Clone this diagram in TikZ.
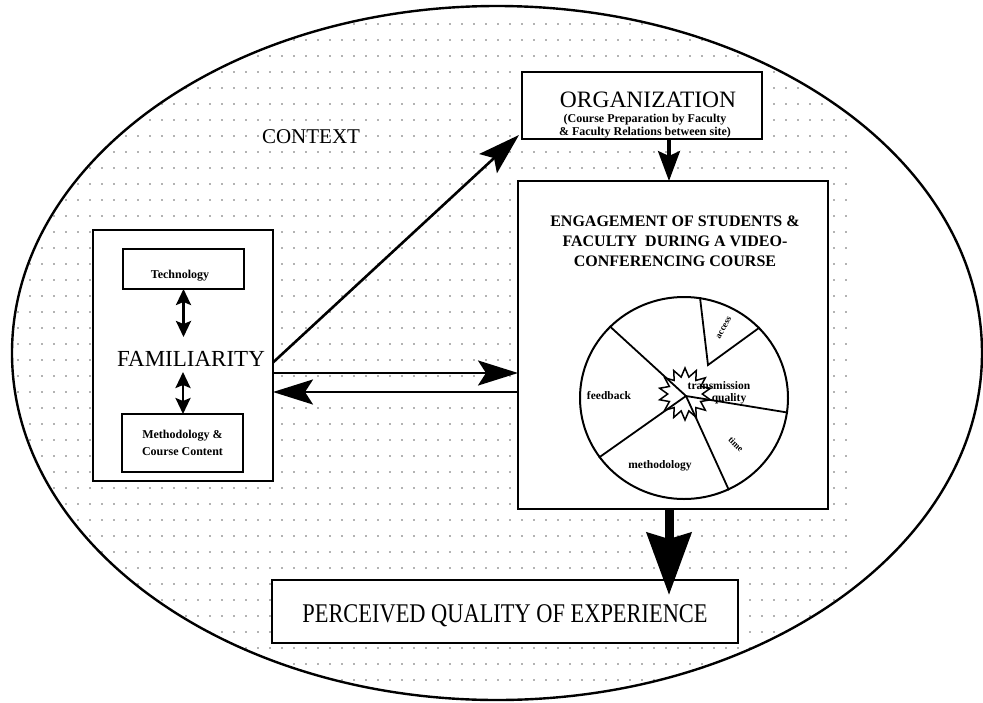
\documentclass[tikz,border=0pt]{standalone}
\usepackage{fontspec}
\usepackage{graphicx}
\setmainfont{Liberation Serif}
\usetikzlibrary{arrows.meta,shapes.geometric}
\newcommand{\hsq}[2]{\scalebox{#1}[1]{#2}}
\begin{document}
\begin{tikzpicture}[x=1pt,y=-1pt,
  box/.style={draw,line width=2.2pt,fill=white,inner sep=0pt,outer sep=0pt,align=center},
  lbl/.style={inner sep=0pt,outer sep=0pt,align=center},
  pielbl/.style={inner sep=0pt,font=\fontsize{11.5}{12}\selectfont\bfseries},
  smlbl/.style={inner sep=0pt,font=\fontsize{9}{10}\selectfont\bfseries},
  spoke/.style={line width=1.8pt},
  dblarr/.style={line width=2.6pt,{Stealth[length=16pt,width=15pt,inset=3pt]}-{Stealth[length=16pt,width=15pt,inset=3pt]}},
  harr/.style={line width=2.6pt,-{Stealth[length=40pt,width=25pt,inset=8pt]}},
  darr/.style={line width=2.6pt,-{Stealth[length=42pt,width=26pt,inset=8pt]}},
  varr/.style={line width=3.2pt,-{Stealth[length=30pt,width=22pt,inset=5pt]}},
  bigarr/.style={line width=9pt,-{Stealth[length=62pt,width=44pt,inset=6pt]}}]
\useasboundingbox (0,0) rectangle (983,702);
% dotted background
\begin{scope}
  \clip (497,353) ellipse [x radius=485, y radius=347];
  \foreach \yy in {24,40,...,690}{
    \foreach \xx in {18,30,...,846}{
      \fill[black!60] (\xx,\yy) circle (0.9pt);
    }
  }
\end{scope}
\node[draw,ellipse,line width=2.4pt,minimum width=970pt,minimum height=694pt,inner sep=0pt] (ctx) at (497,353) {};
\node[lbl,font=\fontsize{21}{24}\selectfont] (ctxlbl) at (311,137) {CONTEXT};

% boxes
\node[box,minimum width=180pt,minimum height=251pt] (fam) at (183,355.5) {};
\node[box,minimum width=121pt,minimum height=40pt] (tech) at (183.5,269) {};
\node[lbl,font=\fontsize{12}{13}\selectfont\bfseries] (techtxt) at (180,276) {Technology};
\node[box,minimum width=121pt,minimum height=58pt,font=\fontsize{12}{17}\selectfont\bfseries] (meth) at (182.5,443) {Methodology \&\\Course Content};
\node[lbl,font=\fontsize{23}{26}\selectfont] (famtxt) at (191,359) {FAMILIARITY};
\coordinate (fa1) at (183,337);
\coordinate (fa2) at (183,372);

\node[box,minimum width=240pt,minimum height=67pt] (org) at (642,105.5) {};
\node[lbl,font=\fontsize{23.5}{25}\selectfont] (orgtxt) at (648,100) {ORGANIZATION};
\node[lbl,font=\fontsize{12}{13}\selectfont\bfseries] (orgsub) at (645,126) {(Course Preparation by Faculty\\\& Faculty Relations between site)};

\node[box,minimum width=310pt,minimum height=328pt] (eng) at (673,345) {};
\node[lbl,font=\fontsize{16}{20}\selectfont\bfseries] (engtxt) at (675,241) {ENGAGEMENT OF STUDENTS \&\\FACULTY\ \ DURING A VIDEO-\\CONFERENCING COURSE};

\node[box,minimum width=466pt,minimum height=63pt] (perc) at (505,611.5) {};
\node[lbl,font=\fontsize{27}{30}\selectfont] (perctxt) at (505,616) {\hsq{0.83}{PERCEIVED QUALITY OF EXPERIENCE}};

% pie
\node[draw,ellipse,line width=2pt,fill=white,minimum width=208pt,minimum height=202pt,inner sep=0pt] (pie) at (684,398) {};
\coordinate (pc) at (686,396);
\coordinate (acctip) at (708,365);
\node[star,star points=14,star point ratio=1.5,draw,fill=white,line width=1.5pt,minimum size=52pt,inner sep=0pt] (burst) at (685,394) {};
\draw[spoke] (pc) -- (pie.136);
\draw[spoke] (pc) -- (pie.215);
\draw[spoke] (pc) -- (pie.296);
\draw[spoke] (pc) -- (pie.352);
\draw[spoke] (pie.81) -- (acctip) -- (pie.43);
\node[smlbl,rotate=60] (acc) at (724,328) {access};
\node[pielbl] (fb) at (609,396) {feedback};
\node[smlbl,rotate=-45] (tm) at (736,444) {time};
\node[pielbl] (meth2) at (660,466) {methodology};
\node[pielbl] (tr1) at (719,386) {transmission};
\node[pielbl] (tr2) at (729,399) {quality};

% connectors
\draw[dblarr] (tech.south) -- (tech.south |- fa1);
\draw[dblarr] (fa2) -- (fa2 |- meth.north);
\coordinate (r1) at (0,373);
\coordinate (r2) at (0,392);
\draw[harr] (fam.east |- r1) -- (eng.west |- r1);
\draw[harr] (eng.west |- r2) -- (fam.east |- r2);
\draw[darr] ([yshift=-7pt]fam.east) -- ([xshift=-3pt,yshift=4pt]org.south west);
\coordinate (ax) at (669,0);
\draw[varr] (org.south -| ax) -- (eng.north -| ax);
\draw[bigarr] (eng.south -| ax) -- ([yshift=-15pt]perc.north -| ax);
\end{tikzpicture}
\end{document}
